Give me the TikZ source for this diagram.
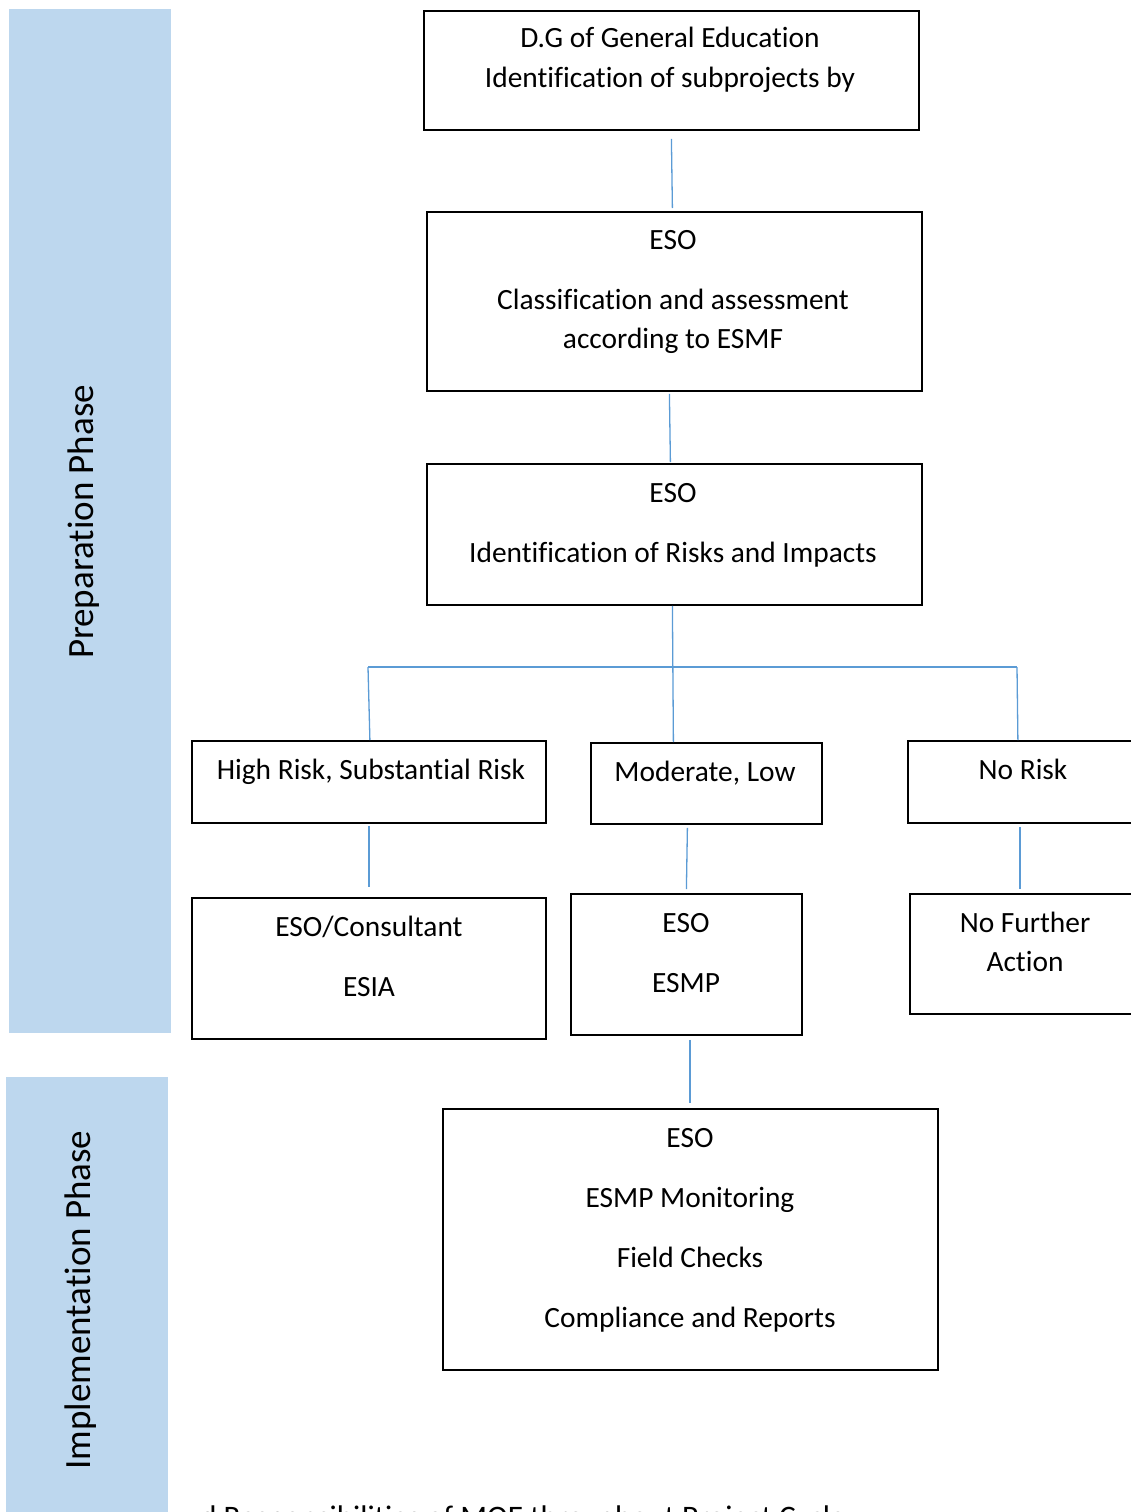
\documentclass[tikz,border=0pt]{standalone}
\usepackage{fontspec}
\setmainfont{Carlito}[Ligatures=NoCommon]
\definecolor{phasefill}{HTML}{BDD7EE}
\definecolor{linkblue}{HTML}{5B9BD5}
\begin{document}
\begin{tikzpicture}[x=1pt,y=-1pt,
  box/.style={draw=black,line width=1.8pt,rectangle,inner sep=0pt,anchor=north west},
  txt/.style={inner sep=0pt,font=\fontsize{29.4}{35}\selectfont,anchor=base},
  phase/.style={inner sep=0pt,font=\fontsize{37}{44}\selectfont,rotate=90},
  conn/.style={draw=linkblue,line width=1.3pt}]
\useasboundingbox (0,0) rectangle (1131,1512);

% phase bands
\fill[phasefill] (9,9) rectangle (171,1033);
\fill[phasefill] (6,1077) rectangle (168,1530);
\node[phase] (prep) at (84,522) {Preparation Phase};
\node[phase] (impl) at (81,1300) {Implementation Phase};

% boxes
\node[box,minimum width=495pt,minimum height=119pt] (b1) at (423,10) {};
\node[box,minimum width=495pt,minimum height=179pt] (b2) at (426,211) {};
\node[box,minimum width=495pt,minimum height=141pt] (b3) at (426,463) {};
\node[box,minimum width=354pt,minimum height=82pt] (high) at (191,740) {};
\node[box,minimum width=231pt,minimum height=81pt] (mod) at (590,742) {};
\node[box,minimum width=234pt,minimum height=82pt] (none) at (907,740) {};
\node[box,minimum width=354pt,minimum height=141pt] (esia) at (191,897) {};
\node[box,minimum width=231pt,minimum height=141pt] (esmp) at (570,893) {};
\node[box,minimum width=232pt,minimum height=120pt] (nfa) at (909,893) {};
\node[box,minimum width=495pt,minimum height=261pt] (mon) at (442,1108) {};

% box texts
\node[txt] (t1a) at (670,48) {D.G of General Education};
\node[txt] (t1b) at (670,87) {Identification of subprojects by};
\node[txt] (t2a) at (673,249) {ESO};
\node[txt] (t2b) at (673,309) {Classification and assessment};
\node[txt] (t2c) at (673,348) {according to ESMF};
\node[txt] (t3a) at (673,502) {ESO};
\node[txt] (t3b) at (673,562) {Identification of Risks and Impacts};
\node[txt] (thigh) at (371,779) {High Risk, Substantial Risk};
\node[txt] (tmod) at (705,781) {Moderate, Low};
\node[txt] (tnone) at (1023,779) {No Risk};
\node[txt] (tesia1) at (369,936) {ESO/Consultant};
\node[txt] (tesia2) at (369,996) {ESIA};
\node[txt] (tesmp1) at (686,932) {ESO};
\node[txt] (tesmp2) at (686,992) {ESMP};
\node[txt] (tnfa1) at (1025,932) {No Further};
\node[txt] (tnfa2) at (1025,971) {Action};
\node[txt] (tm1) at (690,1147) {ESO};
\node[txt] (tm2) at (690,1207) {ESMP Monitoring};
\node[txt] (tm3) at (690,1267) {Field Checks};
\node[txt] (tm4) at (690,1327) {Compliance and Reports};

% caption running below the page edge
\node[txt,anchor=base west,font=\fontsize{31.3}{37}\selectfont] (cap) at (200,1527) {d Responsibilities of MOE throughout Project Cycle};

% branching points
\coordinate (splitL) at (368,667);
\coordinate (splitR) at (1017,667);

% connectors
\draw[conn] ([yshift=-8pt]b1.south) -- ([xshift=-2pt,yshift=3pt]b2.north);
\draw[conn] ([xshift=-5pt,yshift=-2pt]b2.south) -- ([xshift=-4pt,yshift=1pt]b3.north);
\draw[conn] ([xshift=-2pt]b3.south) -- ([xshift=-33pt]mod.north);
\draw[conn] (splitL) -- (splitR);
\draw[conn] (splitL) -- ([xshift=1pt]high.north);
\draw[conn] (splitR) -- ([xshift=-7pt]none.north);
\draw[conn] ([yshift=-2pt]high.south) -- ([yshift=10pt]esia.north);
\draw[conn] ([xshift=-19pt,yshift=-3pt]mod.south) -- ([yshift=4pt]esmp.north);
\draw[conn] ([xshift=-5pt,yshift=-3pt]none.south) -- ([xshift=-6pt,yshift=4pt]nfa.north);
\draw[conn] ([xshift=3.5pt,yshift=-4pt]esmp.south) -- ([xshift=-0.5pt,yshift=5pt]mon.north);
\end{tikzpicture}
\end{document}
